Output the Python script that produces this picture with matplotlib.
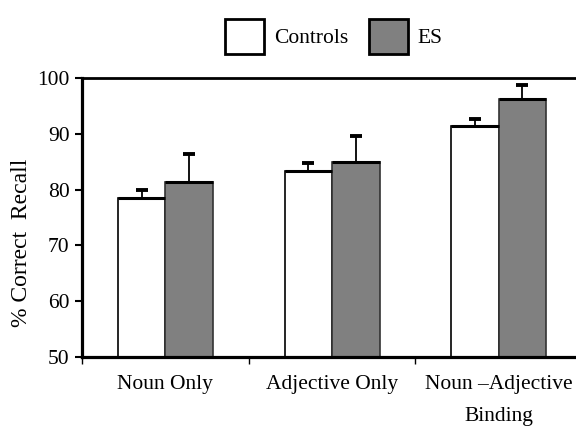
import numpy as np
import matplotlib.pyplot as plt
from matplotlib.patches import Patch

# recall scores per condition
conditions = ['Noun Only', 'Adjective Only', 'Noun \u2013Adjective\nBinding']
controls_mean = [78.5, 83.3, 91.4]
controls_err = [1.5, 1.5, 1.3]
es_mean = [81.3, 84.9, 96.2]
es_err = [5.0, 4.7, 2.6]

plt.rcParams['font.family'] = ['Liberation Serif', 'DejaVu Serif']
plt.rcParams['font.size'] = 15.5

fig = plt.figure(figsize=(5.76, 4.30), dpi=100)
ax = fig.add_axes([0.1424, 0.1698, 0.868, 0.6488])

x = np.arange(len(conditions))
w = 0.285
groups = [(x - w / 2, controls_mean, controls_err, 'white', 'black'),
          (x + w / 2, es_mean, es_err, '#808080', '#333333')]
for xs, mean, err, fc, ec in groups:
    mean = np.array(mean)
    err = np.array(err)
    ax.bar(xs, mean, w, color=fc, edgecolor=ec, linewidth=1.2, zorder=2)
    # thicker top edge on each bar
    ax.hlines(mean, xs - w / 2, xs + w / 2, color='black', linewidth=2.2, zorder=3)
    # upward-only error bars
    ax.vlines(xs, mean, mean + err, color='black', linewidth=1.3, zorder=3)
    ax.plot(xs, mean + err, ls='none', marker='_', ms=9, mew=2.8, color='black', zorder=3)

ax.set_ylim(50, 100)
ax.set_xlim(-0.5, 2.5)
ax.set_yticks(range(50, 101, 10))
ax.set_xticks(x)
ax.set_xticklabels(conditions, linespacing=1.95)
ax.tick_params(axis='x', length=0, pad=13)
ax.set_xticks([-0.5, 0.5, 1.5], minor=True)
ax.tick_params(axis='x', which='minor', length=5, width=1, direction='out')
ax.tick_params(axis='y', length=5, width=1.5, direction='out', pad=4)

for s in ['left', 'bottom']:
    ax.spines[s].set_linewidth(2.3)
ax.spines['top'].set_linewidth(2.0)
ax.spines['right'].set_visible(False)

ax.set_ylabel('% Correct  Recall', fontsize=17)
ax.yaxis.set_label_coords(-0.1, 0.41)

handles = [Patch(facecolor='white', edgecolor='black', linewidth=2),
           Patch(facecolor='#808080', edgecolor='black', linewidth=2)]
fig.legend(handles, ['Controls', 'ES'], loc='upper center', bbox_to_anchor=(0.58, 1.0),
           ncol=2, frameon=False, handlelength=1.8, handleheight=2.1,
           columnspacing=1.0, handletextpad=0.45)

plt.savefig('out.png', dpi=100)
